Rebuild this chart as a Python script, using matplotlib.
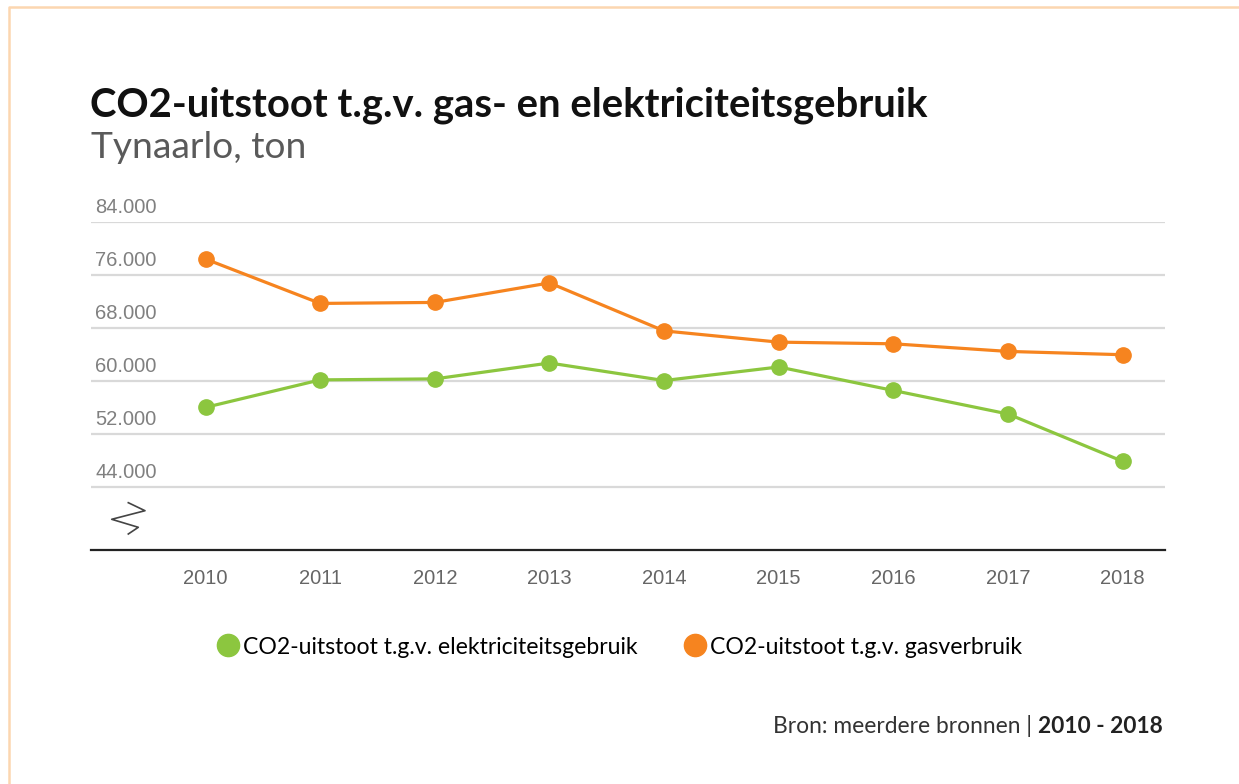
import matplotlib
matplotlib.use("Agg")
import matplotlib.pyplot as plt
from matplotlib.lines import Line2D
import matplotlib.transforms as mtransforms

years = [2010, 2011, 2012, 2013, 2014, 2015, 2016, 2017, 2018]
elektriciteit = [56000, 60150, 60300, 62700, 60050, 62100, 58550, 55000, 47850]
gas = [78400, 71700, 71850, 74800, 67550, 65850, 65600, 64450, 63950]
yticks = [44000, 52000, 60000, 68000, 76000, 84000]
ytick_labels = ["44.000", "52.000", "60.000", "68.000", "76.000", "84.000"]

title = "CO2-uitstoot t.g.v. gas- en elektriciteitsgebruik"
subtitle = "Tynaarlo, ton"
label_el = "CO2-uitstoot t.g.v. elektriciteitsgebruik"
label_gas = "CO2-uitstoot t.g.v. gasverbruik"
source_regular = "Bron: meerdere bronnen | "
source_bold = "2010 - 2018"

GREEN = "#8cc63f"
ORANGE = "#f6841f"
W, H = 1239, 784

fig = plt.figure(figsize=(W / 100, H / 100), dpi=100)
fig.patch.set_facecolor("white")
renderer = fig.canvas.get_renderer()


def fit_size(text, width_px, **kw):
    t = fig.text(0, 0, text, fontsize=20, **kw)
    w = t.get_window_extent(renderer).width
    t.remove()
    return 20 * width_px / w


ax = fig.add_axes([91 / W, 1 - 550 / H, (1165 - 91) / W, (550 - 222) / H])
ax.set_xlim(2009.0, 2018.37)
ax.set_ylim(34450, 84000)

for v in yticks:
    ax.axhline(v, color="#d9d9d9", lw=1.6, zorder=1)

ax.plot(years, elektriciteit, color=GREEN, lw=2.3, marker="o", ms=11, zorder=3,
        label=label_el)
ax.plot(years, gas, color=ORANGE, lw=2.3, marker="o", ms=11, zorder=3,
        label=label_gas)

for s in ["top", "right", "left"]:
    ax.spines[s].set_visible(False)
ax.spines["bottom"].set_color("#222222")
ax.spines["bottom"].set_linewidth(1.6)
ax.set_yticks([])
ax.set_xticks(years)
ax.set_xticklabels([str(y) for y in years], fontsize=14.5, color="#666666",
                   family="Liberation Sans")
ax.tick_params(axis="x", length=0, pad=14)

off = mtransforms.offset_copy(ax.get_yaxis_transform(), fig=fig, x=0, y=5, units="dots")
for v, lab in zip(yticks, ytick_labels):
    ax.text(0.004, v, lab, transform=off, ha="left", va="bottom", fontsize=14.5,
            color="#808080", family="Liberation Sans")

# axis break symbol
zx = [128.3, 145, 111.7, 138.3, 128.3]
zy = [502.7, 510.7, 519.3, 527.3, 534]
fig.add_artist(Line2D([x / W for x in zx], [1 - y / H for y in zy],
                      transform=fig.transFigure, color="#444444", lw=1.2))

# border
fig.add_artist(Line2D([9 / W, 9 / W, 1.0], [0, 1 - 7 / H, 1 - 7 / H],
                      transform=fig.transFigure, color="#fcd6b0", lw=1.8))

ts = fit_size(title, 840, family="Lato", fontweight="bold")
fig.text(90 / W, 1 - 116 / H, title, fontsize=ts, fontweight="bold",
         family="Lato", color="#111111", ha="left", va="baseline")
ss = fit_size(subtitle, 215, family="Lato")
fig.text(91 / W, 1 - 158 / H, subtitle, fontsize=ss, family="Lato",
         color="#5a5a5a", ha="left", va="baseline")

ls = fit_size(label_el, 395, family="Lato")
handles = [Line2D([], [], color=GREEN, marker="o", ls="none", ms=16),
           Line2D([], [], color=ORANGE, marker="o", ls="none", ms=16)]
fig.legend(handles, [label_el, label_gas], loc="center", ncol=2,
           bbox_to_anchor=(619 / W, 1 - 647 / H), frameon=False,
           prop={"family": "Lato", "size": ls}, handletextpad=0.15,
           columnspacing=2.0, handlelength=1.0)

srcs = fit_size(source_regular + source_bold, 391, family="Lato")
t1 = fig.text(1163 / W, 1 - 733 / H, source_bold, fontsize=srcs, fontweight="bold",
              family="Lato", color="#222222", ha="right", va="baseline")
bb = t1.get_window_extent(renderer)
fig.text(bb.x0 / W, 1 - 733 / H, source_regular, fontsize=srcs,
         family="Lato", color="#333333", ha="right", va="baseline")

fig.savefig("out.png", dpi=100)
